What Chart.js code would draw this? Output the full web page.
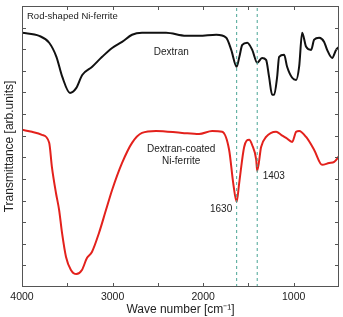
<!DOCTYPE html>
<html>
<head>
<meta charset="utf-8">
<script src="https://cdn.jsdelivr.net/npm/chart.js@4/dist/chart.umd.min.js"></script>
<style>
  html, body { margin: 0; padding: 0; background: #fff; }
  #wrap { width: 343px; height: 317px; }
</style>
</head>
<body>
<div id="wrap"><canvas id="myChart"></canvas></div>
<script>
// wave numbers (cm-1) and transmittance (arb. units)
var dextranX = [4000, 3810, 3700, 3620, 3555, 3470, 3400, 3335, 3225, 3115, 3005, 2895, 2785, 2675, 2410,
                2190, 2045, 1855, 1745, 1690, 1630, 1600, 1568, 1513, 1458, 1403, 1350, 1305, 1272, 1238,
                1216, 1183, 1161, 1106, 1073, 1017, 973, 940, 907, 863, 808, 774, 719, 664, 631, 576, 532, 500];
var dextranY = [11.76, 11.62, 11.30, 10.65, 9.72, 8.98, 9.21, 9.81, 10.19, 10.65, 11.06, 11.34, 11.67, 11.76, 11.76,
                11.62, 11.62, 11.67, 11.53, 10.97, 10.19, 10.65, 11.20, 11.30, 10.97, 10.37, 10.60, 10.51, 9.72, 8.89,
                8.89, 9.72, 10.65, 10.74, 10.19, 9.68, 9.58, 10.19, 11.76, 11.11, 10.97, 11.44, 11.53, 11.34, 10.97, 10.60, 10.97, 11.10];

var coatedX = [4000, 3890, 3780, 3700, 3670, 3625, 3590, 3558, 3514, 3460, 3400, 3338, 3283, 3228, 3150, 3073,
               3005, 2895, 2785, 2675, 2520, 2232, 2045, 1900, 1790, 1713, 1668, 1630, 1602, 1547, 1492, 1459,
               1414, 1403, 1360, 1305, 1194, 1139, 1084, 1017, 973, 940, 863, 774, 686, 609, 553, 500];
var coatedY = [7.27, 7.18, 7.04, 6.67, 5.56, 4.35, 3.56, 2.50, 1.39, 0.79, 0.60, 0.79, 1.34, 1.62, 2.50, 3.56,
               4.49, 5.74, 6.67, 7.13, 7.22, 7.13, 7.08, 7.22, 7.18, 6.34, 4.81, 3.94, 4.81, 6.48, 6.81, 6.57,
               5.88, 5.37, 6.48, 6.94, 7.18, 7.04, 6.90, 6.71, 7.18, 7.22, 6.94, 6.34, 5.65, 5.74, 5.79, 6.05];

var markers = [1630, 1403];
var yMin = 0, yMax = 13;

function pts(xs, ys) {
  return xs.map(function(x, i) { return { x: x, y: ys[i] }; });
}

var frameColor = '#555';
var textColor = '#222';
var fontName = '"Liberation Sans", Arial, sans-serif';

// frame, inward ticks on all four sides, and the text notes
var framePlugin = {
  id: 'frame',
  afterDatasetsDraw: function(chart) {
    var ctx = chart.ctx, a = chart.chartArea;
    var xs = chart.scales.x, ys = chart.scales.y;
    ctx.save();
    ctx.strokeStyle = frameColor;
    ctx.lineWidth = 1;
    ctx.strokeRect(a.left + 0.5, a.top + 0.5, a.right - a.left - 1, a.bottom - a.top - 1);
    ctx.beginPath();
    xs.ticks.forEach(function(t) {
      var px = Math.round(xs.getPixelForValue(t.value)) + 0.5;
      if (px <= a.left + 1 || px >= a.right - 1) return;
      ctx.moveTo(px, a.bottom); ctx.lineTo(px, a.bottom - 4);
      ctx.moveTo(px, a.top); ctx.lineTo(px, a.top + 4);
    });
    ys.ticks.forEach(function(t) {
      var py = Math.round(ys.getPixelForValue(t.value)) + 0.5;
      if (py <= a.top + 1 || py >= a.bottom - 1) return;
      ctx.moveTo(a.left, py); ctx.lineTo(a.left + 4, py);
      ctx.moveTo(a.right, py); ctx.lineTo(a.right - 4, py);
    });
    ctx.stroke();

    ctx.fillStyle = textColor;
    ctx.font = '9.5px ' + fontName;
    ctx.textBaseline = 'middle';
    ctx.textAlign = 'left';
    ctx.fillText('Rod-shaped Ni-ferrite', xs.getPixelForValue(3945), ys.getPixelForValue(12.5));
    ctx.textAlign = 'center';
    ctx.font = '10px ' + fontName;
    ctx.fillText('Dextran', xs.getPixelForValue(2352), ys.getPixelForValue(10.88));
    ctx.fillText('Dextran-coated', xs.getPixelForValue(2242), ys.getPixelForValue(6.39));
    ctx.fillText('Ni-ferrite', xs.getPixelForValue(2242), ys.getPixelForValue(5.83));
    ctx.fillText('1403', xs.getPixelForValue(1220), ys.getPixelForValue(5.14));
    ctx.fillText('1630', xs.getPixelForValue(1802), ys.getPixelForValue(3.61));
    ctx.restore();
  }
};

var markerSets = markers.map(function(m) {
  return {
    data: [{ x: m, y: yMin }, { x: m, y: yMax }],
    borderColor: '#4aa596',
    borderWidth: 1,
    borderDash: [3, 3],
    pointRadius: 0,
    tension: 0
  };
});

var ctx = document.getElementById("myChart");
var myChart = new Chart(ctx, {
  type: 'line',
  data: {
    datasets: markerSets.concat([
      {
        label: 'Dextran',
        data: pts(dextranX, dextranY),
        borderColor: '#111',
        borderWidth: 2,
        pointRadius: 0,
        cubicInterpolationMode: 'monotone'
      },
      {
        label: 'Dextran-coated Ni-ferrite',
        data: pts(coatedX, coatedY),
        borderColor: '#e3211c',
        borderWidth: 2,
        pointRadius: 0,
        cubicInterpolationMode: 'monotone'
      }
    ])
  },
  options: {
    responsive: true,
    maintainAspectRatio: false,
    animation: false,
    layout: { padding: { top: 6, right: 2, left: 0, bottom: 0 } },
    plugins: { legend: { display: false }, tooltip: { enabled: false } },
    scales: {
      x: {
        type: 'linear',
        reverse: true,
        min: 500,
        max: 4000,
        grid: { display: false, drawTicks: false },
        border: { display: false },
        ticks: {
          stepSize: 500,
          padding: 4,
          maxRotation: 0,
          autoSkip: false,
          color: textColor,
          font: { family: fontName, size: 10.5 },
          callback: function(v) { return v % 1000 === 0 && v < 4000.5 && v > 999 ? String(v) : ''; }
        },
        title: {
          display: true,
          text: 'Wave number [cm\u207B\u00B9]',
          color: textColor,
          font: { family: fontName, size: 12 },
          padding: { top: 0, bottom: 0 }
        },
        afterFit: function(s) { s.height = 30; }
      },
      y: {
        type: 'linear',
        min: yMin,
        max: yMax,
        grid: { display: false, drawTicks: false },
        border: { display: false },
        ticks: { stepSize: 1, display: false },
        title: {
          display: true,
          text: 'Transmittance [arb.units]',
          color: textColor,
          font: { family: fontName, size: 12 },
          padding: { top: 2, bottom: 0 }
        },
        afterFit: function(s) { s.width = 22; }
      }
    }
  },
  plugins: [framePlugin]
});
</script>
</body>
</html>
